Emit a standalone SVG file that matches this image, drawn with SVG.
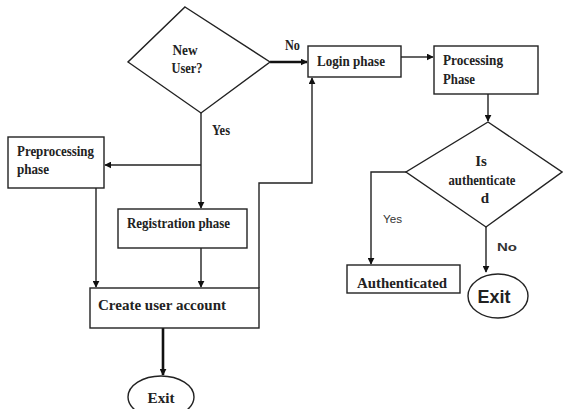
<svg xmlns="http://www.w3.org/2000/svg" width="563" height="409" viewBox="0 0 563 409">
<defs>
<marker id="ah" viewBox="0 0 10 10" refX="9" refY="5" markerWidth="7" markerHeight="7" markerUnits="userSpaceOnUse" orient="auto">
<path d="M0,0 L10,5 L0,10 z" fill="#111"/>
</marker>
</defs>
<style>
.box{fill:#fff;stroke:#222;stroke-width:1.4}
.t{font-family:"Liberation Serif","Times New Roman",serif;font-weight:bold;font-size:15px;fill:#222}
.s{font-family:"Liberation Sans",Arial,sans-serif;font-size:11px;fill:#333}
.ln{fill:none;stroke:#222;stroke-width:1.4}
.thick{fill:none;stroke:#111;stroke-width:2.6}
</style>
<rect width="563" height="409" fill="#fff"/>
<g id="connectors">
<path class="thick" d="M270,62 H307" marker-end="url(#ah)"/>
<path class="ln" d="M401,57 H433" marker-end="url(#ah)"/>
<path class="ln" d="M488,94 V121" marker-end="url(#ah)"/>
<path class="ln" d="M201,113 V208" marker-end="url(#ah)"/>
<path class="ln" d="M201,165 H105" marker-end="url(#ah)"/>
<path class="ln" d="M96,188 V287" marker-end="url(#ah)"/>
<path class="ln" d="M201,248 V287" marker-end="url(#ah)"/>
<path class="ln" d="M259,288 V183 H312 V78" marker-end="url(#ah)"/>
<path class="thick" d="M163,328 V375" marker-end="url(#ah)"/>
<path class="ln" d="M406,172 H371 V264" marker-end="url(#ah)"/>
<path class="ln" d="M486,227 V272" marker-end="url(#ah)"/>
<text class="t" x="285" y="50" font-size="13" textLength="15" lengthAdjust="spacingAndGlyphs">No</text>
<text class="t" x="212" y="135" font-size="13" textLength="18" lengthAdjust="spacingAndGlyphs">Yes</text>
<text class="s" x="383" y="223" textLength="19" lengthAdjust="spacingAndGlyphs">Yes</text>
<text class="s" x="497" y="251" font-weight="bold" font-size="12" textLength="20" lengthAdjust="spacingAndGlyphs">No</text>
</g>
<g id="new-user">
<path class="box" d="M185,7 L270,62 L201,113 L128,62 Z"/>
<text class="t" x="185" y="55" font-size="13" text-anchor="middle" textLength="25" lengthAdjust="spacingAndGlyphs">New</text>
<text class="t" x="187" y="73" font-size="14" text-anchor="middle" textLength="31" lengthAdjust="spacingAndGlyphs">User?</text>
</g>
<g id="login">
<rect class="box" x="308" y="46" width="93" height="31"/>
<text class="t" x="317" y="66" textLength="68" lengthAdjust="spacingAndGlyphs">Login phase</text>
</g>
<g id="processing">
<rect class="box" x="434" y="46" width="104" height="48"/>
<text class="t" x="443" y="65" textLength="60" lengthAdjust="spacingAndGlyphs">Processing</text>
<text class="t" x="443" y="84" textLength="32" lengthAdjust="spacingAndGlyphs">Phase</text>
</g>
<g id="is-authenticated">
<path class="box" d="M488,122 L562,172 L486,227 L406,172 Z"/>
<text class="t" x="481" y="166" font-size="12" text-anchor="middle">Is</text>
<text class="t" x="482" y="185" font-size="12" text-anchor="middle" textLength="67" lengthAdjust="spacingAndGlyphs">authenticate</text>
<text class="t" x="485" y="203" font-size="12" text-anchor="middle">d</text>
</g>
<g id="authenticated">
<rect class="box" x="347" y="265" width="113" height="28"/>
<text class="t" x="357" y="288" font-size="16" textLength="90" lengthAdjust="spacingAndGlyphs">Authenticated</text>
</g>
<g id="exit-right">
<ellipse class="box" cx="498" cy="296" rx="30" ry="22"/>
<text x="494" y="303" text-anchor="middle" font-family="Liberation Sans, Arial, sans-serif" font-weight="bold" font-size="19" fill="#222" textLength="33" lengthAdjust="spacingAndGlyphs">Exit</text>
</g>
<g id="preprocessing">
<rect class="box" x="8" y="137" width="96" height="51"/>
<text class="t" x="17" y="156" font-size="14" textLength="77" lengthAdjust="spacingAndGlyphs">Preprocessing</text>
<text class="t" x="17" y="174" font-size="14" textLength="32" lengthAdjust="spacingAndGlyphs">phase</text>
</g>
<g id="registration">
<rect class="box" x="118" y="209" width="129" height="39"/>
<text class="t" x="127" y="228" textLength="103" lengthAdjust="spacingAndGlyphs">Registration phase</text>
</g>
<g id="create-account">
<rect class="box" x="90" y="288" width="169" height="40"/>
<text class="t" x="98" y="310" textLength="128" lengthAdjust="spacingAndGlyphs">Create user account</text>
</g>
<g id="exit-bottom">
<ellipse class="box" cx="161" cy="397" rx="33" ry="21"/>
<text class="t" x="161" y="403" text-anchor="middle" font-size="16" textLength="27" lengthAdjust="spacingAndGlyphs">Exit</text>
</g>
</svg>
